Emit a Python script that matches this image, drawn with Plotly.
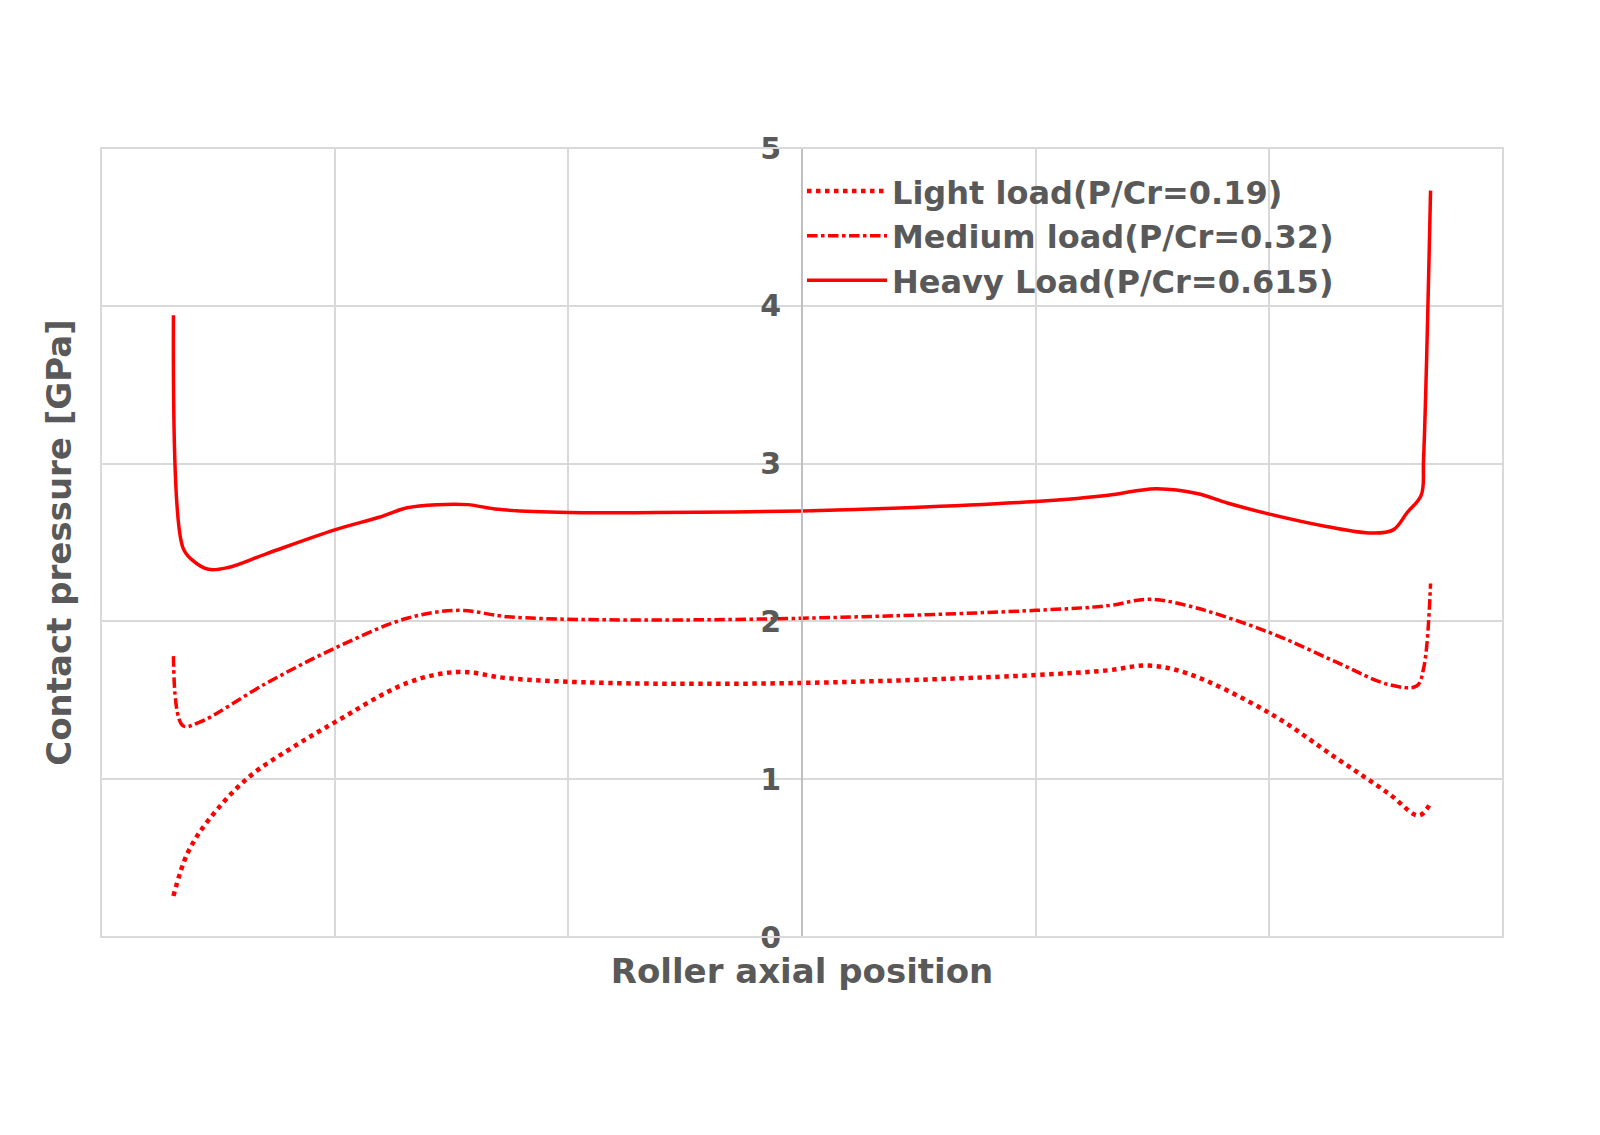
import plotly.graph_objects as go

heavy_x = [0.31,0.35,0.39,0.46,0.54,0.71,1.00,1.19,1.31,1.44,1.57,1.70,2.00,2.38,3.00,3.45,4.00,4.31,4.44,4.52,4.69,4.82,5.00,5.25,5.44,5.53,5.59,5.65,5.66,5.69]
heavy_y = [3.94,2.47,2.39,2.33,2.34,2.43,2.58,2.66,2.72,2.74,2.74,2.71,2.69,2.69,2.70,2.72,2.76,2.80,2.83,2.84,2.81,2.75,2.68,2.60,2.56,2.58,2.69,2.80,3.03,4.73]
med_x = [0.31,0.35,0.42,0.71,1.00,1.31,1.53,1.74,2.17,3.00,4.00,4.31,4.48,4.65,5.00,5.29,5.51,5.63,5.66,5.69]
med_y = [1.78,1.34,1.36,1.61,1.83,2.02,2.07,2.03,2.01,2.02,2.07,2.10,2.14,2.10,1.93,1.74,1.60,1.59,1.70,2.24]
light_x = [0.31,0.37,0.46,0.63,0.84,1.00,1.31,1.53,1.74,2.17,3.00,4.00,4.31,4.48,4.65,5.00,5.29,5.51,5.64,5.69]
light_y = [0.26,0.53,0.74,1.01,1.22,1.36,1.61,1.68,1.64,1.61,1.61,1.66,1.69,1.72,1.67,1.42,1.13,0.91,0.77,0.85]

fig = go.Figure()
fig.add_trace(go.Scatter(x=light_x, y=light_y, mode="lines", name="Light load(P/Cr=0.19)",
                         line=dict(color="#ff0000", width=4.5, dash="dot", shape="spline")))
fig.add_trace(go.Scatter(x=med_x, y=med_y, mode="lines", name="Medium load(P/Cr=0.32)",
                         line=dict(color="#ff0000", width=3.5, dash="dashdot", shape="spline")))
fig.add_trace(go.Scatter(x=heavy_x, y=heavy_y, mode="lines", name="Heavy Load(P/Cr=0.615)",
                         line=dict(color="#ff0000", width=3.5, shape="spline")))

gray = "#595959"
fnt = "DejaVu Sans, Verdana, sans-serif"
fig.update_layout(
    width=1600, height=1135, plot_bgcolor="white", paper_bgcolor="white",
    margin=dict(l=93, r=105, t=140, b=206, autoexpand=False),
    font=dict(family=fnt, color=gray),
    showlegend=True,
    legend=dict(x=0.5, y=0.98, xanchor="left", yanchor="top", bgcolor="rgba(0,0,0,0)",
                font=dict(size=32, color=gray, family=fnt, weight="bold"),
                tracegroupgap=28, itemwidth=80),
    xaxis=dict(range=[0, 6], dtick=1, showticklabels=False, showgrid=True, gridcolor="#d9d9d9",
               gridwidth=2, zeroline=False, showline=False, automargin=False,
               title=dict(text="<b>Roller axial position</b>", font=dict(size=34, color=gray, family=fnt), standoff=22)),
    yaxis=dict(range=[0, 5], dtick=1, showgrid=True, gridcolor="#d9d9d9", gridwidth=2,
               zeroline=False, showline=False, showticklabels=False, automargin=False,
               title=dict(text="<b>Contact pressure [GPa]</b>", font=dict(size=34, color=gray, family=fnt), standoff=18)),
    yaxis2=dict(range=[0, 5], dtick=1, overlaying="y", anchor="free", position=0.5, showgrid=False,
                showline=True, linecolor="#bfbfbf", linewidth=2, zeroline=False, ticks="", automargin=False,
                tickfont=dict(size=30, color=gray, family=fnt, weight="bold"), ticklabelstandoff=14),
)
fig.add_trace(go.Scatter(x=[3], y=[0], yaxis="y2", mode="markers", marker=dict(opacity=0),
                         showlegend=False, hoverinfo="skip"))
fig.add_shape(type="rect", xref="paper", yref="paper", x0=0, y0=0, x1=1, y1=1,
              line=dict(color="#d9d9d9", width=2))
fig.write_html("out.html")
